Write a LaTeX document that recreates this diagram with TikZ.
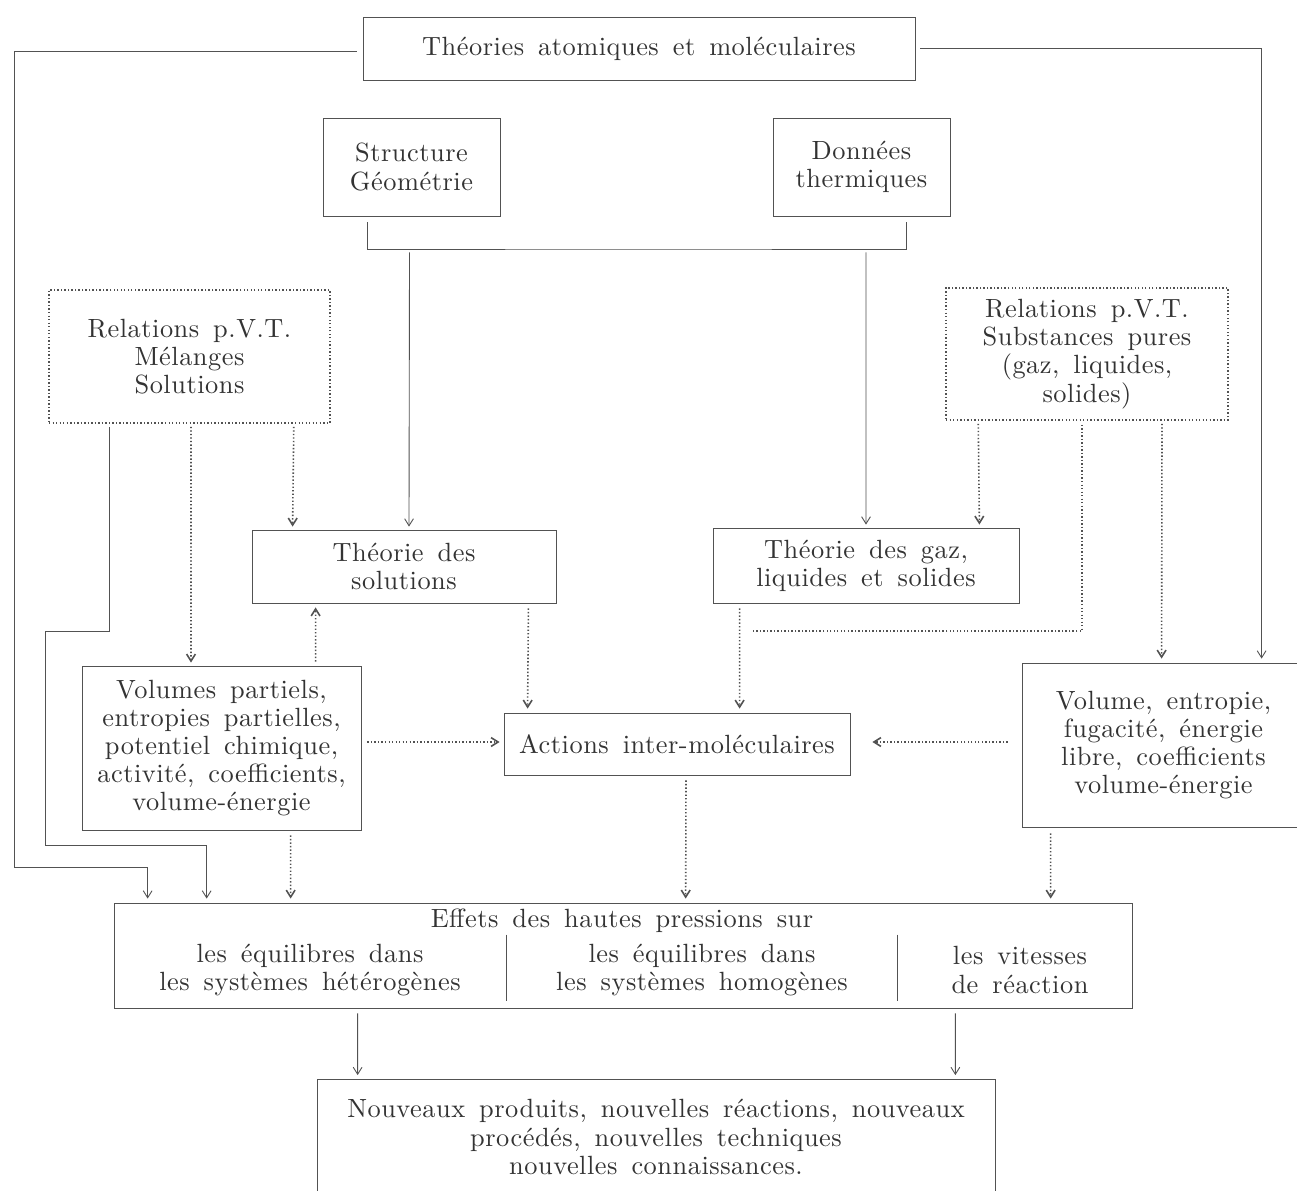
\documentclass[tikz,border=0pt]{standalone}
\usepackage{fontspec}
\setmainfont{lmroman10-regular}[Extension=.otf, LetterSpace=2, WordSpace=1.5]
\usepackage{tikz}
\usetikzlibrary{arrows.meta,calc}
\definecolor{ink}{rgb}{0.2,0.2,0.2}
\newcommand{\boxfont}{\fontsize{15}{16}\selectfont}

\begin{document}
\begin{tikzpicture}[
    x=0.02cm, y=-0.02cm,
    box/.style={rectangle, draw=ink!85, line width=0.5pt, text=ink, align=center, font=\boxfont, inner sep=0pt},
    dotbox/.style={box, dash pattern=on 0.8pt off 1.2pt, line width=0.9pt},
    txtnode/.style={text=ink, align=center, font=\boxfont, inner sep=0pt},
    line/.style={draw=ink!85, line width=0.5pt},
    arrow/.style={line, -{Straight Barb[length=4pt, width=5pt]}},
    dots/.style={dash pattern=on 0.8pt off 1.2pt, line width=0.9pt},
]
    \fill[white] (0,0) rectangle (1297,1190);
    \useasboundingbox (0,0) rectangle (1297,1190);

    % Boxes
    \node[box, minimum width=11.04cm, minimum height=1.26cm] (theo) at (639,48.5) {Théories atomiques et moléculaires};
    \node[box, minimum width=3.54cm, minimum height=1.96cm] (struct) at (411.5,167) {Structure\\Géométrie};
    \node[box, minimum width=3.54cm, minimum height=1.96cm] (donnees) at (861.5,167) {Données\\thermiques};
    \node[dotbox, minimum width=5.62cm, minimum height=2.66cm] (melanges) at (189.5,356.5) {Relations p.V.T.\\Mélanges\\Solutions};
    \node[dotbox, minimum width=5.64cm, minimum height=2.64cm] (pures) at (1087,354) {Relations p.V.T.\\Substances pures\\(gaz, liquides,\\solides)};
    \node[box, minimum width=6.08cm, minimum height=1.46cm] (tsol) at (404,566.5) {Théorie des\\solutions};
    \node[box, minimum width=6.12cm, minimum height=1.5cm] (tgaz) at (866,565.5) {Théorie des gaz,\\liquides et solides};
    \node[box, minimum width=5.58cm, minimum height=3.28cm] (volpart) at (221.5,748) {Volumes partiels,\\entropies partielles,\\potentiel chimique,\\activité, coefficients,\\volume-énergie};
    \node[box, minimum width=6.92cm, minimum height=1.24cm] (actions) at (677,744) {Actions inter-moléculaires};
    \node[box, minimum width=5.66cm, minimum height=3.28cm] (volent) at (1163.5,745) {Volume, entropie,\\fugacité, énergie\\libre, coefficients\\volume-énergie};
    \node[box, minimum width=20.38cm, minimum height=2.1cm] (effets) at (623.5,955.5) {};
    \node[box, minimum width=13.56cm, minimum height=2.3cm] (nouv) at (656,1137) {Nouveaux produits, nouvelles réactions, nouveaux\\procédés, nouvelles techniques\\nouvelles connaissances.};

    % Inside the effects box
    \node[txtnode] (effetstitle) at (622,921) {Effets des hautes pressions sur};
    \node[txtnode] (hetero) at (310,970) {les équilibres dans\\les systèmes hétérogènes};
    \node[txtnode] (homo) at (702,970) {les équilibres dans\\les systèmes homogènes};
    \node[txtnode] (vitesses) at (1020,970) {les vitesses\\de réaction};
    \draw[line] ($(effets.north west)+(393,32)$) -- ($(effets.south west)+(393,-7)$);
    \draw[line] ($(effets.north west)+(784,32)$) -- ($(effets.south west)+(784,-7)$);

    % Corners of the long lines
    \coordinate (lfeed) at (14,867);
    \coordinate (brk) at (640,249);
    \coordinate (lb1) at (45,631);
    \coordinate (lb2) at (45,845);
    \coordinate (gzend) at (752,631);

    % Long feeds from the top box
    \draw[arrow] ($(theo.west)+(-6,3)$) -| (lfeed) -| ($(effets.north west)+(34,-4)$);
    \draw[arrow] ($(theo.east)+(5,0)$) -| ($(volent.north west)+(240,-4)$);

    % Bracket under structure and thermal data
    \draw[line] ($(struct.south)+(-44,6)$) |- (brk) -| ($(donnees.south)+(45,6)$);
    \draw[arrow] ($(struct.south)+(-2,36)$) -- ($(tsol.north)+(5,-3)$);
    \draw[arrow] ($(donnees.south)+(4.5,36)$) -- ($(tgaz.north)+(0,-3)$);

    % From the mixtures box
    \draw[arrow] ($(melanges.south west)+(61,3)$) |- (lb1) -- (lb2) -| ($(effets.north west)+(93,-4)$);
    \draw[arrow, dots] ($(melanges.south)+(1.5,3)$) -- ($(volpart.north)+(-30.5,-3)$);
    \draw[arrow, dots] ($(melanges.south east)+(-37,3)$) -- ($(tsol.north west)+(41,-3)$);

    % From the partial quantities box
    \draw[arrow, dots] ($(volpart.north west)+(234,-4)$) -- ($(tsol.south west)+(64,4)$);
    \draw[arrow, dots] ($(volpart.east)+(6,-6)$) -- ($(actions.west)+(-4,-2)$);
    \draw[arrow, dots] ($(volpart.south west)+(209,5)$) -- ($(effets.north west)+(177,-4)$);

    % Theories to molecular actions
    \draw[arrow, dots] ($(tsol.south east)+(-28,5)$) -- ($(actions.north west)+(24,-4)$);
    \draw[arrow, dots] ($(tgaz.south west)+(27,5)$) -- ($(actions.north west)+(236,-4)$);

    % From the pure substances box
    \draw[arrow, dots] ($(pures.south west)+(33,3)$) -- ($(tgaz.north east)+(-40,-3)$);
    \draw[line, dots] ($(pures.south)+(-5,4)$) |- (gzend);
    \draw[arrow, dots] ($(pures.south)+(75,3)$) -- ($(volent.north west)+(140,-4)$);

    % From the volume/entropy box
    \draw[arrow, dots] ($(volent.west)+(-14,-3)$) -- ($(actions.east)+(22,-2)$);
    \draw[arrow, dots] ($(volent.south west)+(29,6)$) -- ($(effets.north west)+(937,-4)$);

    % Molecular actions to effects
    \draw[arrow, dots] ($(actions.south)+(9,5)$) -- ($(effets.north west)+(572,-4)$);

    % Effects to new products
    \draw[arrow] ($(effets.south west)+(244,5)$) -- ($(nouv.north west)+(41,-4)$);
    \draw[arrow] ($(effets.south east)+(-178,5)$) -- ($(nouv.north east)+(-40,-4)$);
\end{tikzpicture}
\end{document}
